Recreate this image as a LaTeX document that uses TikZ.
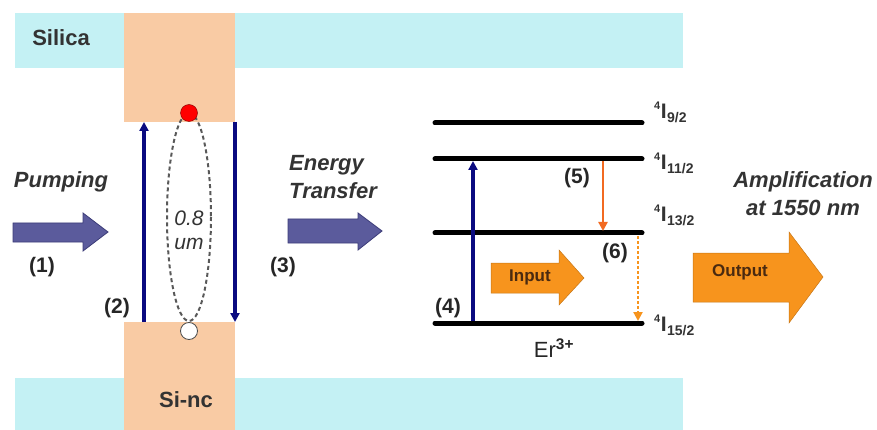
\documentclass[tikz,border=0pt]{standalone}
\usepackage{fontspec}
\setmainfont{Liberation Sans}
\usetikzlibrary{arrows.meta}
\definecolor{silica}{HTML}{C4F1F4}
\definecolor{sinc}{HTML}{F9CBA4}
\definecolor{navyc}{HTML}{0A0A80}
\definecolor{blk}{HTML}{5B5B9C}
\definecolor{blkd}{HTML}{3C3C78}
\definecolor{org}{HTML}{F7941D}
\definecolor{org2}{HTML}{F26A21}
\definecolor{brn}{HTML}{4A2A10}
\newcommand\lev[1]{{\fontsize{11}{12}\selectfont\raisebox{9pt}{4}}\kern0.5pt I\kern0.5pt{\fontsize{14}{15}\selectfont\raisebox{-4pt}{#1}}}
\begin{document}
\begin{tikzpicture}[x=1pt,y=-1pt,
  lbl/.style={font=\fontsize{21}{24}\selectfont\bfseries, text=black!85},
  big/.style={font=\fontsize{22}{27}\selectfont\bfseries, text=black!80},
  ital/.style={font=\fontsize{22}{28}\selectfont\bfseries\itshape, text=black!80, align=center},
  lvl/.style={line width=5pt, line cap=round},
  lvllbl/.style={anchor=west, font=\fontsize{21}{22}\selectfont\bfseries, text=black!80, inner sep=0pt},
  uparr/.style={navyc, line width=3.5pt, -{Triangle[length=9pt,width=9pt]}},
  blockb/.style={fill=blk, draw=blkd, line width=0.8pt},
  blocko/.style={fill=org, draw=org!80!black, line width=0.5pt}]
\useasboundingbox (0,0) rectangle (877,430);
% silica bands
\fill[silica] (15,13) rectangle (683,68);
\fill[silica] (15,378) rectangle (683,430);
% Si-nc column
\fill[sinc] (124,13) rectangle (235,122);
\fill[sinc] (124,322) rectangle (235,430);
\node[big] (silica) at (61,38) {Silica};
\node[big] (sinc) at (186,400) {Si-nc};
% exciton
\draw[black!65, line width=2pt, dash pattern=on 4pt off 3pt] (189,217) ellipse [x radius=22, y radius=104];
\node[circle, fill=red, draw=red!50!black, minimum size=17pt, inner sep=0pt] (el) at (189,113) {};
\node[circle, fill=white, draw=black!70, line width=0.8pt, minimum size=17pt, inner sep=0pt] (ho) at (189,331) {};
\node[font=\fontsize{21}{24}\selectfont\itshape, text=black!80, align=center] (size) at (189,230) {0.8\\um};
% transitions 2 and 3
\coordinate (a2b) at (144,322); \coordinate (a2t) at (144,122);
\coordinate (a3t) at (235,122); \coordinate (a3b) at (235,322);
\draw[uparr] (a2b) -- (a2t);
\draw[uparr] (a3t) -- (a3b);
% pumping
\node[ital] (pump) at (61,182) {Pumping};
\draw[blockb] (13,223) -- (83,223) -- (83,213) -- (108,232) -- (83,251) -- (83,242) -- (13,242) -- cycle;
\node[lbl] (l1) at (42,267) {(1)};
\node[lbl] (l2) at (117,308) {(2)};
\node[lbl] (l3) at (283,267) {(3)};
% energy transfer
\node[ital, align=left, anchor=west, inner sep=0pt] (et) at (289,177) {Energy\\Transfer};
\draw[blockb] (288,219) -- (358,219) -- (358,213) -- (382,231) -- (358,250) -- (358,243) -- (288,243) -- cycle;
% levels
\coordinate (L1a) at (435,123); \coordinate (L1b) at (642,123);
\coordinate (L2a) at (435,159); \coordinate (L2b) at (642,159);
\coordinate (L3a) at (435,233); \coordinate (L3b) at (642,233);
\coordinate (L4a) at (435,323); \coordinate (L4b) at (642,323);
\draw[lvl] (L1a) -- (L1b);
\draw[lvl] (L2a) -- (L2b);
\draw[lvl] (L3a) -- (L3b);
\draw[lvl] (L4a) -- (L4b);
\node[lvllbl] (t1) at (654,112) {\lev{9/2}};
\node[lvllbl] (t2) at (654,163) {\lev{11/2}};
\node[lvllbl] (t3) at (654,215) {\lev{13/2}};
\node[lvllbl] (t4) at (654,325) {\lev{15/2}};
\node[font=\fontsize{22}{24}\selectfont, text=black!85] (er) at (554,348) {Er{\bfseries\textsuperscript{3+}}};
% transitions 4,5,6
\coordinate (a4b) at (473,321); \coordinate (a4t) at (473,161);
\draw[uparr] (a4b) -- (a4t);
\node[lbl] (l4) at (448,308) {(4)};
\coordinate (a5t) at (603,161); \coordinate (a5b) at (603,231);
\draw[org2, line width=2.8pt, -{Triangle[length=9pt,width=9pt]}] (a5t) -- (a5b);
\node[lbl] (l5) at (577,178) {(5)};
\coordinate (a6t) at (638,236); \coordinate (a6b) at (638,321);
\draw[org, line width=2.8pt, dash pattern=on 2.5pt off 2.5pt, -{Triangle[length=9pt,width=9pt]}] (a6t) -- (a6b);
\node[lbl] (l6) at (615,253) {(6)};
% input arrow
\draw[blocko] (491,263) -- (559,263) -- (559,250) -- (584,278) -- (559,305) -- (559,293) -- (491,293) -- cycle;
\node[font=\fontsize{17}{19}\selectfont\bfseries, text=brn] (in) at (530,277) {Input};
% output arrow
\draw[blocko] (693,253) -- (789,253) -- (789,232) -- (823,277) -- (789,323) -- (789,302) -- (693,302) -- cycle;
\node[font=\fontsize{17}{19}\selectfont\bfseries, text=brn] (out) at (740,272) {Output};
\node[ital] (amp) at (803,194) {Amplification\\at 1550 nm};
\end{tikzpicture}
\end{document}
